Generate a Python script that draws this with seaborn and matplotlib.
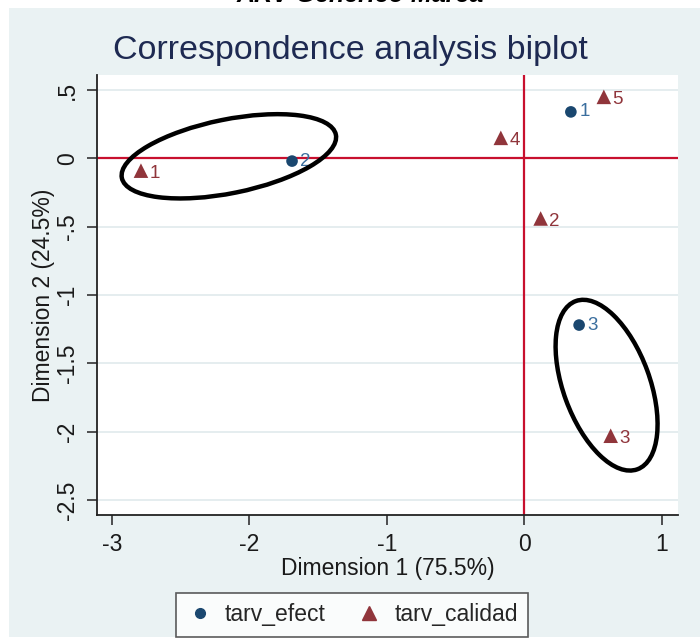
import numpy as np
import pandas as pd
import seaborn as sns
import matplotlib
matplotlib.use("Agg")
import matplotlib.pyplot as plt
from matplotlib.patches import Ellipse, Rectangle
from matplotlib.lines import Line2D

# ---- data ----
efect_labels = ["1", "2", "3"]
efect_dim1 = [0.34, -1.69, 0.40]
efect_dim2 = [0.34, -0.02, -1.22]

calidad_labels = ["1", "2", "3", "4", "5"]
calidad_dim1 = [-2.79, 0.12, 0.63, -0.17, 0.58]
calidad_dim2 = [-0.09, -0.44, -2.03, 0.15, 0.45]

x_ticks = [-3, -2, -1, 0, 1]
x_tick_labels = ["-3", "-2", "-1", "0", "1"]
y_ticks = [0.5, 0, -0.5, -1, -1.5, -2, -2.5]
y_tick_labels = [".5", "0", "-.5", "-1", "-1.5", "-2", "-2.5"]

# hand-drawn ellipse annotations: (center x, center y, width, height, angle)
ellipse_left = (-2.15, 0.015, 1.59, 0.54, 11.5)
ellipse_right = (0.60, -1.66, 1.31, 0.63, 110)

df_efect = pd.DataFrame({"dim1": efect_dim1, "dim2": efect_dim2,
                         "label": efect_labels, "var": "tarv_efect"})
df_calidad = pd.DataFrame({"dim1": calidad_dim1, "dim2": calidad_dim2,
                           "label": calidad_labels, "var": "tarv_calidad"})

NAVY = "#1a476f"
MAROON = "#90353b"
RED = "#c8102e"
BG = "#eaf2f3"
TXT = "#1a1a1a"

sns.set_theme(style="white")
plt.rcParams["font.family"] = ["Liberation Sans", "DejaVu Sans"]

fig = plt.figure(figsize=(7.0, 6.41), dpi=100)
fig.patch.set_facecolor("white")
fig.add_artist(Rectangle((9 / 700, 4 / 641), 1 - 9 / 700, (637 - 8) / 641,
                         transform=fig.transFigure, facecolor=BG, edgecolor="none", zorder=0))

ax = fig.add_axes([97 / 700, 1 - 515 / 641, (678 - 97) / 700, (515 - 75) / 641])
ax.set_facecolor("white")

ax.set_xlim(-3.11, 1.12)
ax.set_ylim(-2.61, 0.61)

# grid lines
for yt in y_ticks:
    ax.axhline(yt, color="#e3ecee", lw=1.3, zorder=0.5)

ax.axhline(0, color=RED, lw=1.6, zorder=1)
ax.axvline(0, color=RED, lw=1.6, zorder=1)

sns.scatterplot(data=df_efect, x="dim1", y="dim2", color=NAVY, marker="o",
                s=70, edgecolor="none", legend=False, ax=ax, zorder=3)
sns.scatterplot(data=df_calidad, x="dim1", y="dim2", color=MAROON, marker="^",
                s=110, edgecolor="none", legend=False, ax=ax, zorder=3)

for xv, yv, lab in zip(efect_dim1, efect_dim2, efect_labels):
    ax.annotate(lab, (xv, yv), xytext=(6, 0), textcoords="offset points",
                va="center", ha="left", fontsize=13.5, color="#3a6e9e", zorder=4)
for xv, yv, lab in zip(calidad_dim1, calidad_dim2, calidad_labels):
    ax.annotate(lab, (xv, yv), xytext=(6, -2), textcoords="offset points",
                va="center", ha="left", fontsize=13.5, color=MAROON, zorder=4)

for cx, cy, w, h, ang in (ellipse_left, ellipse_right):
    ax.add_patch(Ellipse((cx, cy), w, h, angle=ang, fill=False,
                         edgecolor="black", lw=3.2, zorder=5))

ax.set_xticks(x_ticks)
ax.set_xticklabels(x_tick_labels)
ax.set_yticks(y_ticks)
ax.set_yticklabels(y_tick_labels, rotation=90, va="center")
ax.tick_params(axis="both", direction="out", length=7, width=1.2, color="#333333",
               labelsize=16.5, labelcolor=TXT, pad=6, left=True, bottom=True)

for side in ("top", "right"):
    ax.spines[side].set_visible(False)
for side in ("left", "bottom"):
    ax.spines[side].set_color("#222222")
    ax.spines[side].set_linewidth(1.3)

ax.set_xlabel("Dimension 1 (75.5%)", fontsize=16.5, color=TXT, labelpad=1)
ax.set_ylabel("Dimension 2 (24.5%)", fontsize=16.5, color=TXT, labelpad=1)

fig.text(0.5, 1 - 50 / 641, "Correspondence analysis biplot", ha="center", va="center",
         fontsize=24.5, color="#1e2a52")
fig.text(360 / 700, 1 - 7 / 641, "ARV Generico Marca", ha="center", va="bottom",
         fontsize=18, fontweight="bold", fontstyle="italic", color="black")

handles = [
    Line2D([], [], marker="o", ls="none", color=NAVY, markersize=7),
    Line2D([], [], marker="^", ls="none", color=MAROON, markersize=10),
]
leg = fig.legend(handles, ["tarv_efect", "tarv_calidad"], loc="center",
                 bbox_to_anchor=(352 / 700, 1 - 615 / 641), ncol=2, frameon=True,
                 fontsize=16.5, fancybox=False, edgecolor="#333333",
                 handletextpad=0.5, columnspacing=1.3, borderpad=0.45, handlelength=1.2)
leg.get_frame().set_linewidth(1.2)
leg.get_frame().set_facecolor("white")

fig.savefig("out.png", dpi=100)
